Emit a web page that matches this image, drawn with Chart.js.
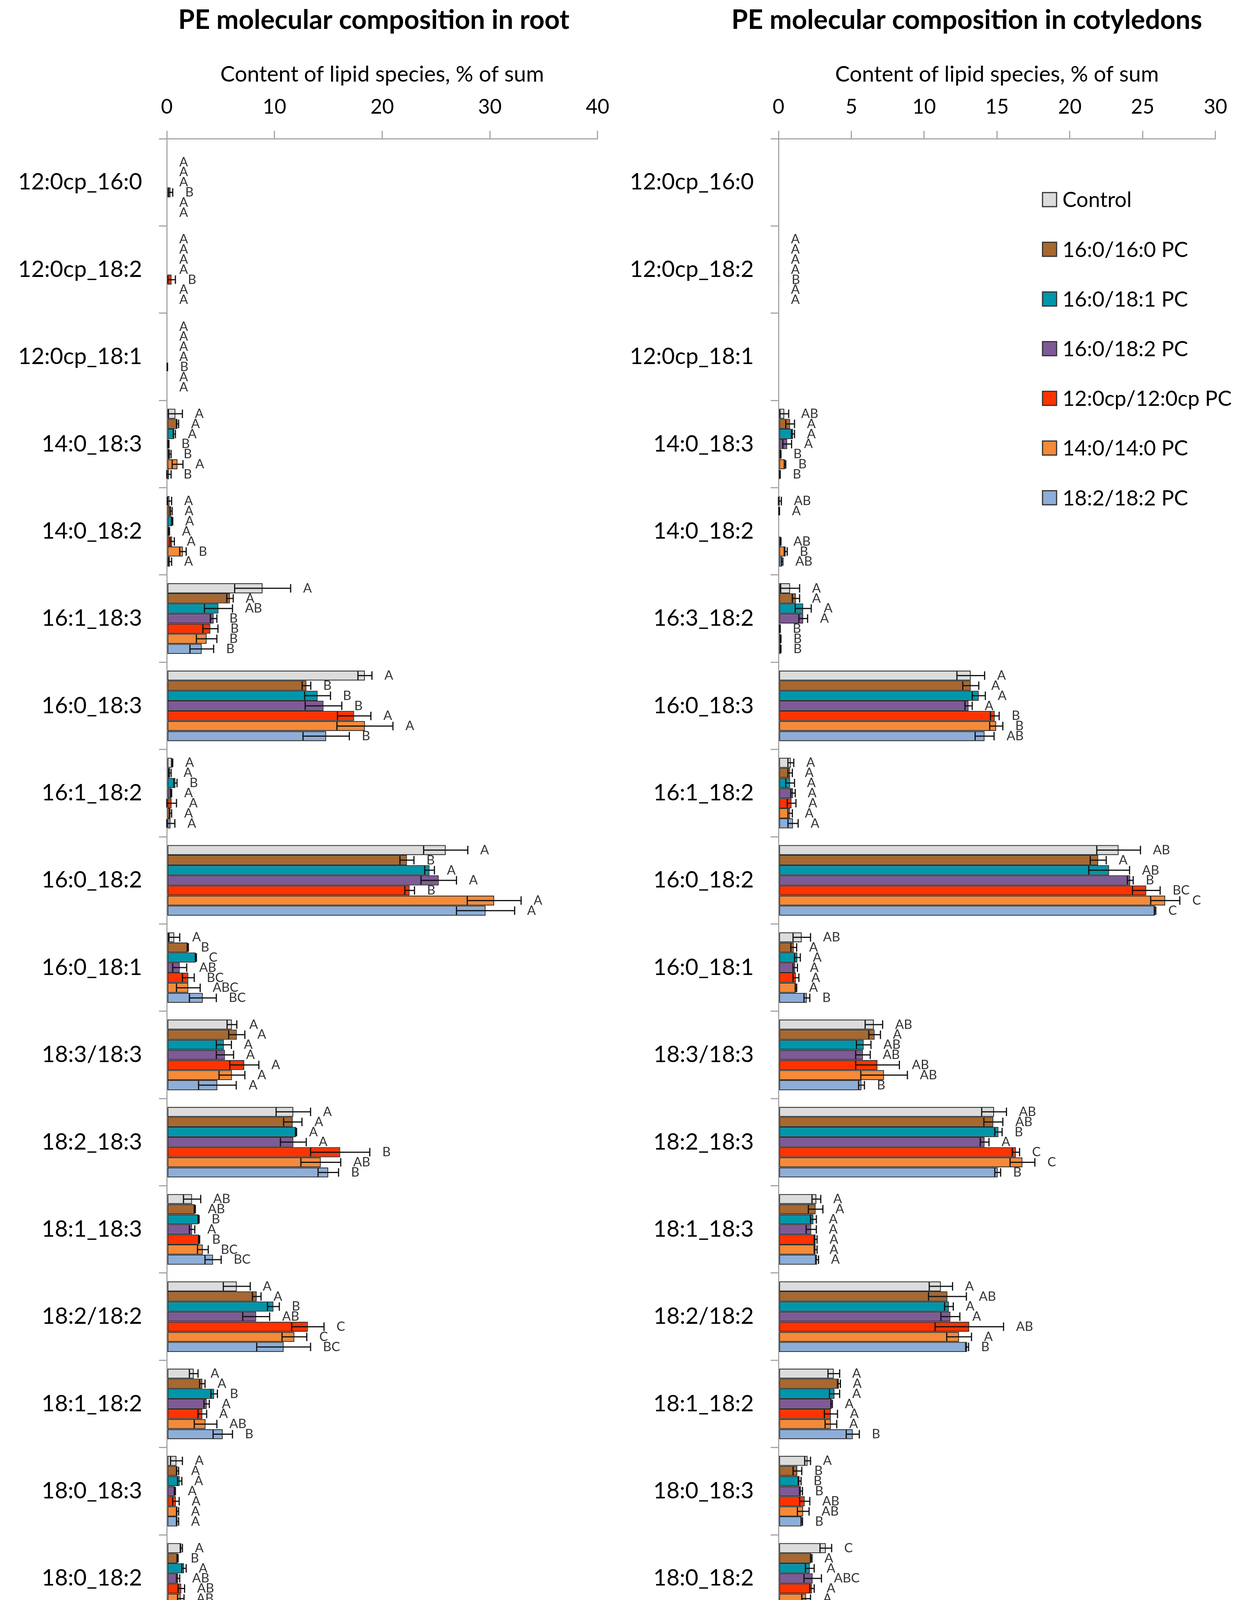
<!DOCTYPE html>
<html><head><meta charset="utf-8">
<script src="https://cdn.jsdelivr.net/npm/chart.js@4.4.1/dist/chart.umd.min.js"></script>
<style>
html,body{margin:0;padding:0;background:#fff;}
#wrap{position:relative;width:3172px;height:4677px;background:#fff;}
#c1wrap{position:absolute;left:0;top:0;width:1590px;height:4677px;}
#c2wrap{position:absolute;left:1590px;top:0;width:1582px;height:4677px;}
</style></head><body>
<div id="wrap"><div id="c1wrap"><canvas id="c1"></canvas></div><div id="c2wrap"><canvas id="c2"></canvas></div></div>
<script>
// ---------- DATA ----------
const seriesNames = ['Control','16:0/16:0 PC','16:0/18:1 PC','16:0/18:2 PC','12:0cp/12:0cp PC','14:0/14:0 PC','18:2/18:2 PC'];
const seriesColors = ['#DCDCDC','#A8682F','#0096AA','#7E5A96','#FF3300','#F58A38','#8DAED8'];

const rootCategories = ['12:0cp_16:0','12:0cp_18:2','12:0cp_18:1','14:0_18:3','14:0_18:2','16:1_18:3','16:0_18:3','16:1_18:2','16:0_18:2','16:0_18:1','18:3/18:3','18:2_18:3','18:1_18:3','18:2/18:2','18:1_18:2','18:0_18:3','18:0_18:2','18:1/18:1','18:2_22:0'];
const cotCategories = ['12:0cp_16:0','12:0cp_18:2','12:0cp_18:1','14:0_18:3','14:0_18:2','16:3_18:2','16:0_18:3','16:1_18:2','16:0_18:2','16:0_18:1','18:3/18:3','18:2_18:3','18:1_18:3','18:2/18:2','18:1_18:2','18:0_18:3','18:0_18:2','18:1/18:1','18:2_22:0'];

const rootTicks = [0,10,20,30,40];
const cotTicks = [0,5,10,15,20,25,30];

// Root: values and SD per treatment
const rootControl = [0,0,0,0.8,0.25,8.9,18.4,0.5,25.9,0.7,6.05,11.75,2.35,6.5,2.5,0.9,1.35,0.15,1.0];
const rootControlErr = [0,0,0,0.65,0.2,2.6,0.65,0.05,2.05,0.5,0.45,1.6,0.8,1.25,0.4,0.55,0.1,0.05,0.6];
const root1616 = [0,0,0,1.0,0.4,5.87,12.97,0.3,22.3,1.95,6.5,11.7,2.6,8.35,3.3,1.0,1.0,0.3,1.15];
const root1616Err = [0,0,0,0.1,0.1,0.3,0.4,0.1,0.65,0.05,0.75,0.85,0.05,0.4,0.25,0.1,0.05,0.15,0.1];
const root1618_1 = [0,0,0,0.7,0.5,4.8,14.0,0.8,24.4,2.7,5.3,12.0,2.95,9.9,4.4,1.2,1.6,0.5,1.15];
const root1618_1Err = [0,0,0,0.1,0.05,1.3,1.2,0.15,0.45,0.05,0.7,0.05,0.05,0.55,0.3,0.2,0.2,0.2,0.05];
const root1618_2 = [0,0,0,0.15,0.2,4.35,14.55,0.4,25.25,1.2,5.4,11.75,2.35,8.3,3.7,0.75,1.05,0.1,1.0];
const root1618_2Err = [0,0,0,0.05,0.05,0.3,1.7,0.05,1.65,0.65,0.8,1.2,0.25,1.25,0.25,0.05,0.15,0.05,0.05];
const root12cp = [0.35,0.45,0.05,0.3,0.5,4.05,17.4,0.45,22.55,2.0,7.2,16.1,3.0,13.1,3.3,0.85,1.35,0.15,1.5];
const root12cpErr = [0.2,0.35,0.02,0.1,0.2,0.7,1.55,0.45,0.45,0.55,1.35,2.75,0.05,1.5,0.4,0.3,0.3,0.15,0.15];
const root1414 = [0,0,0,1.0,1.5,3.7,18.4,0.35,30.4,2.0,6.05,14.3,3.35,11.85,3.6,1.0,1.3,0.35,1.0];
const root1414Err = [0,0,0,0.5,0.3,0.95,2.6,0.1,2.5,1.1,1.2,1.85,0.5,1.15,1.05,0.1,0.3,0.2,0.35];
const root1818 = [0,0,0,0.2,0.3,3.25,14.8,0.35,29.6,3.35,4.7,15.0,4.3,10.85,5.2,1.0,1.6,1.95,2.2];
const root1818Err = [0,0,0,0.2,0.15,1.1,2.15,0.4,2.7,1.25,1.75,0.95,0.75,2.5,0.9,0.1,0.5,0.65,0.7];

const rootLetters = [
 ['','A','A','A','B','A','A'],
 ['A','A','A','A','B','A','A'],
 ['A','A','A','A','B','A','A'],
 ['A','A','A','B','B','A','B'],
 ['A','A','A','A','A','B','A'],
 ['A','A','AB','B','B','B','B'],
 ['A','B','B','B','A','A','B'],
 ['A','A','B','A','A','A','A'],
 ['A','B','A','A','B','A','A'],
 ['A','B','C','AB','BC','ABC','BC'],
 ['A','A','A','A','A','A','A'],
 ['A','A','A','A','B','AB','B'],
 ['AB','AB','B','A','B','BC','BC'],
 ['A','A','B','AB','C','C','BC'],
 ['A','A','B','A','A','AB','B'],
 ['A','A','A','A','A','A','A'],
 ['A','B','A','AB','AB','AB','A'],
 ['A','A','A','A','A','A','B'],
 ['A','A','A','A','AB','A','B']
];

// Cotyledons
const cotControl = [0,0,0,0.4,0.1,0.8,13.2,0.85,23.35,1.6,6.55,14.8,2.6,11.15,3.8,2.0,3.25,0.2,1.15];
const cotControlErr = [0,0,0,0.3,0.1,0.65,0.95,0.2,1.5,0.6,0.6,0.85,0.3,0.8,0.4,0.2,0.4,0.05,0.2];
const cot1616 = [0,0,0,0.8,0.05,1.2,13.2,0.8,21.95,1.05,6.6,14.75,2.55,11.6,4.15,1.3,2.25,0.05,0.8];
const cot1616Err = [0,0,0,0.3,0.02,0.25,0.55,0.15,0.55,0.2,0.4,0.65,0.5,1.3,0.1,0.3,0.05,0.02,0.1];
const cot1618_1 = [0,0,0,1.0,0,1.7,13.75,0.8,22.7,1.3,5.85,15.1,2.4,11.7,3.85,1.45,2.15,0.2,0.7];
const cot1618_1Err = [0,0,0,0.1,0,0.55,0.45,0.3,1.4,0.2,0.5,0.25,0.2,0.3,0.35,0.1,0.3,0.05,0.3];
const cot1618_2 = [0,0,0,0.6,0,1.7,13.05,1.0,24.15,1.15,5.8,14.15,2.25,11.8,3.65,1.55,2.35,0.1,1.0];
const cot1618_2Err = [0,0,0,0.3,0,0.3,0.25,0.15,0.2,0.15,0.5,0.3,0.35,0.65,0.05,0.1,0.6,0.02,0.2];
const cot12cp = [0,0.05,0,0.15,0.15,0.1,14.85,0.9,25.25,1.2,6.8,16.3,2.55,13.1,3.6,1.8,2.3,0.1,1.05];
const cot12cpErr = [0,0,0,0.02,0.02,0.02,0.3,0.3,0.95,0.2,1.5,0.25,0.1,2.35,0.45,0.35,0.15,0.02,0.05];
const cot1414 = [0,0,0,0.45,0.5,0.15,14.95,0.8,26.55,1.2,7.25,16.75,2.55,12.4,3.6,1.7,1.9,0.2,0.8];
const cot1414Err = [0,0,0,0.05,0.1,0.02,0.45,0.15,1.0,0.05,1.6,0.85,0.1,0.85,0.4,0.4,0.3,0.05,0.4];
const cot1818 = [0,0,0,0.1,0.25,0.15,14.15,1.0,25.85,1.95,5.7,15.05,2.65,12.95,5.1,1.6,2.7,0.45,1.1];
const cot1818Err = [0,0,0,0.02,0.05,0.02,0.65,0.35,0.05,0.2,0.2,0.2,0.1,0.1,0.45,0.05,0.15,0.05,0.05];

const cotLetters = [
 ['','','','','','',''],
 ['A','A','A','A','B','A','A'],
 ['','','','','','',''],
 ['AB','A','A','A','B','B','B'],
 ['AB','A','','','AB','B','AB'],
 ['A','A','A','A','B','B','B'],
 ['A','A','A','A','B','B','AB'],
 ['A','A','A','A','A','A','A'],
 ['AB','A','AB','B','BC','C','C'],
 ['AB','A','A','A','A','A','B'],
 ['AB','A','AB','AB','AB','AB','B'],
 ['AB','AB','B','A','C','C','B'],
 ['A','A','A','A','A','A','A'],
 ['A','AB','A','A','AB','A','B'],
 ['A','A','A','A','A','A','B'],
 ['A','B','B','B','AB','AB','B'],
 ['C','A','A','ABC','A','A','BC'],
 ['A','A','A','A','A','A','B'],
 ['A','B','B','AB','A','B','A']
];

const rootTitle = 'PE molecular composition in root';
const cotTitle = 'PE molecular composition in cotyledons';
const axisTitle = 'Content of lipid species, % of sum';

// ---------- PLUGINS ----------
const FONT = 'Lato, "Open Sans", sans-serif';

const errLetterPlugin = {
  id: 'errLetters',
  afterDatasetsDraw(chart, args, opts) {
    const ctx = chart.ctx, xs = chart.scales.x;
    ctx.save();
    chart.data.datasets.forEach((ds, d) => {
      const meta = chart.getDatasetMeta(d);
      meta.data.forEach((bar, i) => {
        const v = ds.data[i], e = opts.errs[d][i];
        const y = bar.y, h = bar.height;
        const xEnd = xs.getPixelForValue(v + e);
        if (e > 0) {
          const x1 = xs.getPixelForValue(Math.max(0, v - e));
          ctx.strokeStyle = '#111';
          ctx.lineWidth = 3;
          ctx.beginPath();
          ctx.moveTo(x1, y); ctx.lineTo(xEnd, y);
          ctx.moveTo(x1, y - h * 0.42); ctx.lineTo(x1, y + h * 0.42);
          ctx.moveTo(xEnd, y - h * 0.42); ctx.lineTo(xEnd, y + h * 0.42);
          ctx.stroke();
        }
        const txt = opts.letters[i][d];
        if (txt) {
          ctx.fillStyle = '#333';
          ctx.font = '33px ' + FONT;
          ctx.textAlign = 'left';
          ctx.textBaseline = 'middle';
          ctx.fillText(txt, xEnd + 32, y);
        }
      });
    });
    ctx.restore();
  }
};

const titlePlugin = {
  id: 'mainTitle',
  afterDraw(chart, args, opts) {
    const ctx = chart.ctx;
    ctx.save();
    ctx.fillStyle = '#000';
    ctx.font = 'bold 68px ' + FONT;
    ctx.textAlign = 'center';
    ctx.textBaseline = 'middle';
    ctx.fillText(opts.text, opts.x, opts.y);
    ctx.restore();
  }
};

const boxLegendPlugin = {
  id: 'boxLegend',
  afterDraw(chart, args, opts) {
    if (!opts.show) return;
    const ctx = chart.ctx, ca = chart.chartArea;
    ctx.save();
    chart.data.datasets.forEach((ds, k) => {
      const cy = ca.top + opts.top + k * opts.step;
      const bx = ca.left + opts.left;
      ctx.fillStyle = ds.backgroundColor;
      ctx.fillRect(bx, cy - 18, 36, 36);
      ctx.strokeStyle = '#333';
      ctx.lineWidth = 3;
      ctx.strokeRect(bx, cy - 18, 36, 36);
      ctx.fillStyle = '#000';
      ctx.font = '54px ' + FONT;
      ctx.textAlign = 'left';
      ctx.textBaseline = 'middle';
      ctx.fillText(ds.label, bx + 51, cy + 2);
    });
    ctx.restore();
  }
};

function makeChart(id, cats, series, errs, letters, ticks, title, titleX, yWidth, padRight, legend) {
  const datasets = series.map((vals, k) => ({
    label: seriesNames[k],
    data: vals,
    backgroundColor: seriesColors[k],
    borderColor: '#333',
    borderWidth: 2.5,
    borderSkipped: false,
    categoryPercentage: 0.81,
    barPercentage: 1.0
  }));
  return new Chart(document.getElementById(id), {
    type: 'bar',
    data: { labels: cats, datasets },
    plugins: [errLetterPlugin, titlePlugin, boxLegendPlugin],
    options: {
      indexAxis: 'y',
      responsive: true,
      maintainAspectRatio: false,
      animation: false,
      devicePixelRatio: 1,
      layout: { padding: { top: 87, right: padRight, bottom: 35, left: 0 } },
      plugins: {
        legend: { display: false },
        tooltip: { enabled: false },
        title: { display: false },
        errLetters: { errs, letters },
        mainTitle: { text: title, x: titleX, y: 52 },
        boxLegend: legend
      },
      scales: {
        x: {
          position: 'top',
          min: ticks[0],
          max: ticks[ticks.length - 1],
          afterBuildTicks: (s) => { s.ticks = ticks.map(v => ({ value: v })); },
          ticks: { font: { family: FONT, size: 52 }, color: '#000', padding: 30 },
          grid: { drawOnChartArea: false, tickLength: 20, color: '#a6a6a6', lineWidth: 3 },
          border: { color: '#a6a6a6', width: 3 },
          title: { display: true, text: axisTitle, font: { family: FONT, size: 56 }, color: '#000', padding: { top: 70, bottom: 0 } },
          afterFit: (s) => { s.height = 268; }
        },
        y: {
          ticks: { font: { family: FONT, size: 58 }, color: '#000', padding: 43, autoSkip: false },
          grid: { offset: true, drawOnChartArea: false, tickLength: 20, color: '#a6a6a6', lineWidth: 3 },
          border: { color: '#a6a6a6', width: 3 },
          afterFit: (s) => { s.width = yWidth; }
        }
      }
    }
  });
}

function init() {
  makeChart('c1', rootCategories,
    [rootControl, root1616, root1618_1, root1618_2, root12cp, root1414, root1818],
    [rootControlErr, root1616Err, root1618_1Err, root1618_2Err, root12cpErr, root1414Err, root1818Err],
    rootLetters, rootTicks, rootTitle, 957, 427, 37, { show: false });
  makeChart('c2', cotCategories,
    [cotControl, cot1616, cot1618_1, cot1618_2, cot12cp, cot1414, cot1818],
    [cotControlErr, cot1616Err, cot1618_1Err, cot1618_2Err, cot12cpErr, cot1414Err, cot1818Err],
    cotLetters, cotTicks, cotTitle, 885, 403, 54, { show: true, left: 676, top: 156, step: 127.2 });
}

if (document.fonts && document.fonts.load) {
  Promise.all([document.fonts.load('52px Lato'), document.fonts.load('bold 62px Lato')]).then(init, init);
} else { init(); }
</script>
</body></html>
